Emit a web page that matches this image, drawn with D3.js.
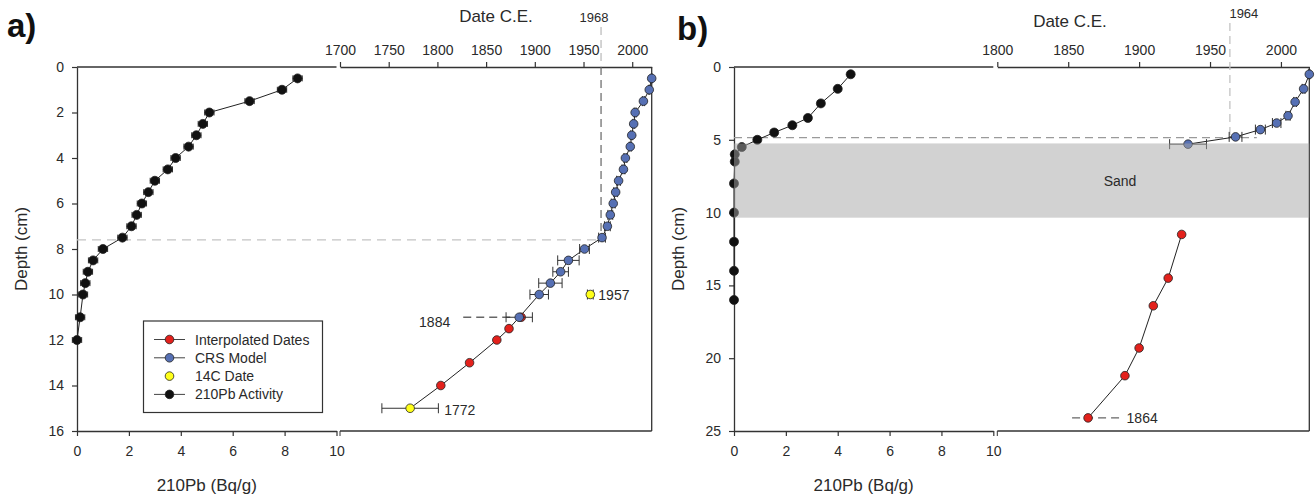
<!DOCTYPE html>
<html>
<head>
<meta charset="utf-8">
<script src="https://cdn.jsdelivr.net/npm/d3@7"></script>
<style>
  body { margin: 0; background: #fff; }
  text { font-family: "Liberation Sans", Arial, sans-serif; fill: #2a2a2a; }
</style>
</head>
<body>
<svg id="chart" width="1316" height="495"></svg>
<script>
// ---------- Core a ----------
// 210Pb activity (Bq/g) by depth (cm)
const aPbDepth = [0.5, 1, 1.5, 2, 2.5, 3, 3.5, 4, 4.5, 5, 5.5, 6, 6.5, 7, 7.5, 8, 8.5, 9, 9.5, 10, 11, 12];
const aPbValue = [8.5, 7.9, 6.65, 5.1, 4.85, 4.6, 4.3, 3.8, 3.5, 3.0, 2.75, 2.5, 2.3, 2.1, 1.75, 1.0, 0.62, 0.42, 0.32, 0.23, 0.12, 0.0];
// CRS model dates (year C.E.) and their uncertainty (years)
const aCrsDepth = [0.5, 1, 1.5, 2, 2.5, 3, 3.5, 4, 4.5, 5, 5.5, 6, 6.5, 7, 7.5, 8, 8.5, 9, 9.5, 10, 11];
const aCrsYear  = [2020, 2017.5, 2011.5, 2003, 2001.5, 1999.5, 1998, 1993, 1991, 1986, 1983, 1980.5, 1977.5, 1974.5, 1969, 1951, 1934.5, 1926.5, 1916, 1904.5, 1884];
const aCrsErr   = [0.5, 0.5, 1, 1, 1, 1, 1, 1.5, 1.5, 2, 2, 2, 2.5, 3, 3.5, 5, 11, 8, 12, 9.5, 13.5];
// Interpolated dates below the CRS range
const aIntDepth = [11, 11.5, 12, 13, 14];
const aIntYear  = [1886, 1873.5, 1861, 1833, 1803.5];
// 14C dates
const aC14Depth = [10, 15];
const aC14Year  = [1957, 1772];
const aC14Err   = [3, 29];
// Reference markers
const aMarkYear = 1968, aMarkDepth = 7.6;
const aYearTicks = [1700, 1750, 1800, 1850, 1900, 1950, 2000];
const aDepthTicks = [0, 2, 4, 6, 8, 10, 12, 14, 16];

// ---------- Core b ----------
const bPbDepth = [0.5, 1.5, 2.5, 3.5, 4, 4.5, 5, 5.5, 6, 6.5, 8, 10, 12, 14, 16];
const bPbValue = [4.5, 4.0, 3.35, 2.85, 2.25, 1.55, 0.9, 0.3, 0.03, 0.03, 0, 0, 0, 0, 0];
const bCrsDepth = [0.5, 1.5, 2.4, 3.35, 3.85, 4.3, 4.8, 5.3];
const bCrsYear  = [2020, 2016, 2010, 2005, 1997, 1985.5, 1968, 1934.5];
const bCrsErr   = [0.5, 1, 1, 1.5, 3, 3.5, 4.5, 13];
const bIntDepth = [11.5, 14.5, 16.4, 19.3, 21.2, 24.1];
const bIntYear  = [1930, 1920.5, 1910, 1900, 1890, 1864];
const bMarkYear = 1964, bMarkDepth = 4.85, bMarkEndYear = 1983;
const bSand = [5.25, 10.35];
const bYearTicks = [1800, 1850, 1900, 1950, 2000];
const bDepthTicks = [0, 5, 10, 15, 20, 25];

const pbTicks = [0, 2, 4, 6, 8, 10];

const svg = d3.select("#chart");
const C = { blue: "#5670b4", red: "#e3211c", yellow: "#ffff1a", black: "#111", axis: "#333", err: "#333" };

function zip(depths, vals, errs) {
  return depths.map((d, i) => ({ d, v: vals[i], e: errs ? errs[i] : 0 }));
}

function styleAxis(g) {
  g.selectAll("path.domain").attr("stroke", C.axis).attr("stroke-width", 1.3);
  g.selectAll(".tick line").attr("stroke", C.axis).attr("stroke-width", 1.2);
  g.selectAll(".tick text").attr("font-size", 14).attr("font-family", '"Liberation Sans", Arial, sans-serif').attr("fill", "#2a2a2a");
}

function errorBars(g, data, xs, ys, capH) {
  const gg = g.append("g").attr("stroke", C.err).attr("stroke-width", 1).attr("fill", "none");
  data.filter(p => p.e > 0).forEach(p => {
    const xa = xs(p.v - p.e), xb = xs(p.v + p.e), y = ys(p.d);
    gg.append("line").attr("x1", xa).attr("x2", xb).attr("y1", y).attr("y2", y);
    gg.append("line").attr("x1", xa).attr("x2", xa).attr("y1", y - capH).attr("y2", y + capH);
    gg.append("line").attr("x1", xb).attr("x2", xb).attr("y1", y - capH).attr("y2", y + capH);
  });
}

function dots(g, data, xs, ys, fill, r = 4.3) {
  g.append("g").selectAll("circle").data(data).join("circle")
    .attr("cx", p => xs(p.v)).attr("cy", p => ys(p.d)).attr("r", r)
    .attr("fill", fill).attr("stroke", "#222").attr("stroke-width", 0.8);
}

function connect(g, data, xs, ys) {
  g.append("path").datum(data)
    .attr("fill", "none").attr("stroke", "#222").attr("stroke-width", 1)
    .attr("d", d3.line().x(p => xs(p.v)).y(p => ys(p.d)));
}

function frame(cfg) {
  const g = svg.append("g");
  const y = d3.scaleLinear().domain([0, cfg.depthMax]).range([67, 431]);
  const xPb = d3.scaleLinear().domain([0, 10]).range([cfg.pb0, cfg.pb1]);
  const xYr = d3.scaleLinear().domain([cfg.yr0, 2020]).range([cfg.yrL, cfg.yrR]);

  // Left axis (depth)
  const gl = g.append("g").attr("transform", `translate(${cfg.pb0},0)`)
    .call(d3.axisLeft(y).tickValues(cfg.depthTicks).tickSize(5).tickSizeOuter(0).tickPadding(8));
  styleAxis(gl);
  // Bottom axis (210Pb)
  const gb = g.append("g").attr("transform", `translate(0,${y.range()[1]})`)
    .call(d3.axisBottom(xPb).tickValues(pbTicks).tickSize(5).tickSizeOuter(0).tickPadding(10));
  styleAxis(gb);
  // Top border of the activity plot
  g.append("line").attr("x1", cfg.pb0).attr("x2", cfg.pb1).attr("y1", 67).attr("y2", 67)
    .attr("stroke", C.axis).attr("stroke-width", 1.3);
  // Top axis (date)
  const gt = g.append("g").attr("transform", "translate(0,67)")
    .call(d3.axisTop(xYr).tickValues(cfg.yearTicks).tickFormat(d3.format("d"))
      .tickSize(5).tickSizeOuter(0).tickPadding(7));
  styleAxis(gt);
  // Right and bottom borders of the date plot
  g.append("line").attr("x1", cfg.yrR).attr("x2", cfg.yrR).attr("y1", 67).attr("y2", 431)
    .attr("stroke", C.axis).attr("stroke-width", 1.3);
  g.append("line").attr("x1", cfg.yrL).attr("x2", cfg.yrR).attr("y1", 431).attr("y2", 431)
    .attr("stroke", C.axis).attr("stroke-width", 1.3);
  g.append("line").attr("x1", cfg.yrL).attr("x2", cfg.yrL).attr("y1", 431).attr("y2", 436)
    .attr("stroke", C.axis).attr("stroke-width", 1);

  // Titles
  g.append("text").attr("transform", `translate(${cfg.pb0 - 50},${249}) rotate(-90)`)
    .attr("text-anchor", "middle").attr("font-size", 17).text("Depth (cm)");
  g.append("text").attr("x", (cfg.pb0 + cfg.pb1) / 2).attr("y", 491)
    .attr("text-anchor", "middle").attr("font-size", 17).text("210Pb (Bq/g)");
  g.append("text").attr("x", cfg.dateTitleX).attr("y", cfg.dateTitleY)
    .attr("text-anchor", "middle").attr("font-size", 17).text("Date C.E.");
  g.append("text").attr("x", cfg.panelX).attr("y", cfg.panelY)
    .attr("font-size", 33).attr("font-weight", "bold").style("fill", "#111").text(cfg.panel);

  return { g, y, xPb, xYr };
}

// ===== Panel a =====
{
  const { g, y, xPb, xYr } = frame({
    depthMax: 16, depthTicks: aDepthTicks, yearTicks: aYearTicks,
    pb0: 77, pb1: 336.5, yr0: 1700, yrL: 340, yrR: 651.7,
    dateTitleX: 496, dateTitleY: 22, panel: "a)", panelX: 7, panelY: 37
  });

  // Reference year / depth markers
  g.append("line").attr("x1", xYr(aMarkYear)).attr("x2", xYr(aMarkYear)).attr("y1", 27).attr("y2", 67)
    .attr("stroke", "#bdbdbd").attr("stroke-width", 1.3).attr("stroke-dasharray", "8,5");
  g.append("line").attr("x1", xYr(aMarkYear)).attr("x2", xYr(aMarkYear)).attr("y1", 67).attr("y2", y(aMarkDepth))
    .attr("stroke", "#666").attr("stroke-width", 1.2).attr("stroke-dasharray", "8,5");
  g.append("line").attr("x1", xPb(0)).attr("x2", xYr(aMarkYear) - 3).attr("y1", y(aMarkDepth)).attr("y2", y(aMarkDepth))
    .attr("stroke", "#c4c4c4").attr("stroke-width", 1.3).attr("stroke-dasharray", "9,6");
  g.append("text").attr("x", xYr(aMarkYear) - 7).attr("y", 22).attr("text-anchor", "middle")
    .attr("font-size", 13).text(String(aMarkYear));

  // 210Pb activity
  const pb = zip(aPbDepth, aPbValue, aPbDepth.map(() => 0.18));
  connect(g, pb, xPb, y);
  errorBars(g, pb, xPb, y, 3);
  dots(g, pb, xPb, y, C.black, 4.5);

  // Dates
  const crs = zip(aCrsDepth, aCrsYear, aCrsErr);
  const intp = zip(aIntDepth, aIntYear);
  const c14 = zip(aC14Depth, aC14Year, aC14Err);
  connect(g, crs.concat(intp.slice(1), [c14[1]]), xYr, y);

  // 1884 leader
  const p1884 = crs[crs.length - 1];
  g.append("line").attr("x1", xYr(p1884.v) - 56).attr("x2", xYr(p1884.v)).attr("y1", y(p1884.d)).attr("y2", y(p1884.d))
    .attr("stroke", "#666").attr("stroke-width", 1.3).attr("stroke-dasharray", "8,5");
  g.append("text").attr("x", xYr(p1884.v) - 69).attr("y", y(p1884.d) + 10).attr("text-anchor", "end")
    .attr("font-size", 14).text(String(p1884.v));

  dots(g, intp, xYr, y, C.red);
  errorBars(g, crs, xYr, y, 5);
  dots(g, crs, xYr, y, C.blue);
  errorBars(g, c14, xYr, y, 5);
  dots(g, c14, xYr, y, C.yellow);

  g.append("text").attr("x", xYr(c14[0].v) + 8).attr("y", y(c14[0].d) + 5).attr("font-size", 14).text(String(c14[0].v));
  g.append("text").attr("x", xYr(c14[1].v) + 34).attr("y", y(c14[1].d) + 7).attr("font-size", 14).text(String(c14[1].v));

  // Legend
  const lg = g.append("g");
  lg.append("rect").attr("x", 143.5).attr("y", 321).attr("width", 179).attr("height", 91.5)
    .attr("fill", "#fff").attr("stroke", "#333").attr("stroke-width", 1.2);
  const items = [
    { label: "Interpolated Dates", fill: C.red, line: true },
    { label: "CRS Model", fill: C.blue, line: true },
    { label: "14C Date", fill: C.yellow, line: false },
    { label: "210Pb Activity", fill: C.black, line: true }
  ];
  items.forEach((it, i) => {
    const yy = 339.5 + i * 18.3;
    if (it.line) lg.append("line").attr("x1", 154).attr("x2", 185).attr("y1", yy).attr("y2", yy)
      .attr("stroke", "#444").attr("stroke-width", 1);
    lg.append("circle").attr("cx", 169.5).attr("cy", yy).attr("r", 4.3)
      .attr("fill", it.fill).attr("stroke", "#222").attr("stroke-width", 0.8);
    lg.append("text").attr("x", 195).attr("y", yy + 5).attr("font-size", 14).text(it.label);
  });
}

// ===== Panel b =====
{
  const { g, y, xPb, xYr } = frame({
    depthMax: 25, depthTicks: bDepthTicks, yearTicks: bYearTicks,
    pb0: 734, pb1: 993.3, yr0: 1800, yrL: 997.3, yrR: 1309.3,
    dateTitleX: 1070, dateTitleY: 27, panel: "b)", panelX: 677, panelY: 40
  });

  // Reference year / depth markers
  g.append("line").attr("x1", xYr(bMarkYear)).attr("x2", xYr(bMarkYear)).attr("y1", 23).attr("y2", y(bMarkDepth))
    .attr("stroke", "#c4c4c4").attr("stroke-width", 1.3).attr("stroke-dasharray", "8,5");
  g.append("line").attr("x1", xPb(0)).attr("x2", xYr(bMarkEndYear)).attr("y1", y(bMarkDepth)).attr("y2", y(bMarkDepth))
    .attr("stroke", "#9a9a9a").attr("stroke-width", 1.1).attr("stroke-dasharray", "8,5");
  g.append("text").attr("x", xYr(bMarkYear) + 14).attr("y", 18).attr("text-anchor", "middle")
    .attr("font-size", 13).text(String(bMarkYear));

  // 210Pb activity
  const pb = zip(bPbDepth, bPbValue, bPbDepth.map(() => 0.12));
  connect(g, pb, xPb, y);
  errorBars(g, pb, xPb, y, 3);
  dots(g, pb, xPb, y, C.black, 4.5);

  // CRS model
  const crs = zip(bCrsDepth, bCrsYear, bCrsErr);
  connect(g, crs, xYr, y);
  errorBars(g, crs, xYr, y, 5);
  dots(g, crs, xYr, y, C.blue);

  // Interpolated dates
  const intp = zip(bIntDepth, bIntYear);
  const last = intp[intp.length - 1];
  g.append("line").attr("x1", xYr(last.v) - 16).attr("x2", xYr(last.v) + 34).attr("y1", y(last.d)).attr("y2", y(last.d))
    .attr("stroke", "#666").attr("stroke-width", 1.3).attr("stroke-dasharray", "8,5");
  connect(g, intp, xYr, y);
  dots(g, intp, xYr, y, C.red);
  g.append("text").attr("x", xYr(last.v) + 38.5).attr("y", y(last.d) + 5).attr("font-size", 14).text(String(last.v));

  // Sand layer
  g.append("rect").attr("x", xPb(0)).attr("y", y(bSand[0]))
    .attr("width", xYr(2020) - xPb(0)).attr("height", y(bSand[1]) - y(bSand[0]))
    .attr("fill", "#a6a6a6").attr("fill-opacity", 0.5);
  g.append("text").attr("x", 1120).attr("y", y((bSand[0] + bSand[1]) / 2) + 5)
    .attr("text-anchor", "middle").attr("font-size", 14).text("Sand");
}
</script>
</body>
</html>
